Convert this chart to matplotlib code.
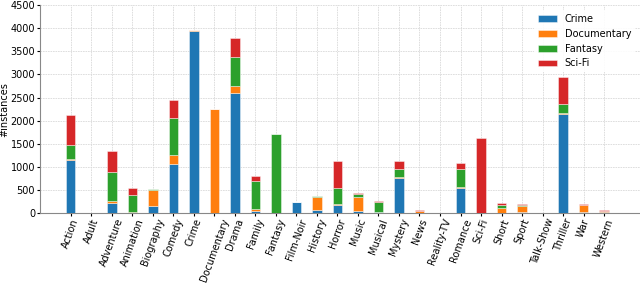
import matplotlib
matplotlib.use("Agg")
import matplotlib.pyplot as plt
import numpy as np

categories = ["Action", "Adult", "Adventure", "Animation", "Biography", "Comedy", "Crime",
              "Documentary", "Drama", "Family", "Fantasy", "Film-Noir", "History", "Horror",
              "Music", "Musical", "Mystery", "News", "Reality-TV", "Romance", "Sci-Fi",
              "Short", "Sport", "Talk-Show", "Thriller", "War", "Western"]
crime       = [1150, 5, 210, 5, 145, 1055, 3950, 0, 2590, 50, 0, 230, 65, 165, 50, 15, 750, 0, 3, 535, 0, 5, 30, 2, 2145, 30, 30]
documentary = [30, 3, 50, 25, 360, 195, 5, 2250, 165, 45, 0, 8, 275, 35, 305, 15, 25, 50, 2, 28, 0, 95, 120, 1, 22, 135, 12]
fantasy     = [290, 0, 625, 360, 10, 800, 0, 0, 615, 590, 1710, 0, 30, 350, 50, 205, 170, 0, 0, 390, 0, 72, 22, 0, 190, 15, 10]
scifi       = [655, 0, 465, 150, 5, 395, 10, 0, 410, 115, 0, 0, 0, 570, 30, 25, 175, 10, 0, 135, 1620, 50, 25, 0, 595, 22, 15]

series = [("Crime", crime, "#1f77b4"), ("Documentary", documentary, "#ff7f0e"),
          ("Fantasy", fantasy, "#2ca02c"), ("Sci-Fi", scifi, "#d62728")]

fig = plt.figure(figsize=(6.4, 2.83), dpi=100)
ax = fig.add_axes([0.0625, 0.247, 0.9375, 0.735])

x = np.arange(len(categories))
bottom = np.zeros(len(categories))
for name, vals, col in series:
    vals = np.array(vals, dtype=float)
    ax.bar(x, vals, 0.46, bottom=bottom, color=col, label=name,
           edgecolor=(1, 1, 1, 0.5), linewidth=0.6, zorder=3)
    bottom += vals

ax.set_xlim(-1.5, len(categories) + 0.75)
ax.set_ylim(0, 4500)
ax.set_yticks(np.arange(0, 4501, 500))
ax.set_xticks(x)
ax.set_xticklabels(categories, rotation=70, fontsize=7)
ax.tick_params(axis="y", labelsize=7, length=2.5, pad=1)
ax.tick_params(axis="x", length=2.5, pad=0.5)
ax.set_ylabel("#instances", fontsize=7)
ax.yaxis.set_label_coords(-0.052, 0.5)
ax.grid(True, color="#d9d9d9", linewidth=0.6, linestyle=(0, (2, 1)), zorder=0)
ax.set_axisbelow(True)
for s in ["top", "right"]:
    ax.spines[s].set_visible(False)
ax.spines["left"].set_color("#888888")
ax.spines["bottom"].set_color("#888888")
ax.legend(loc="upper right", fontsize=7, frameon=True, edgecolor="none",
          framealpha=0.9, fancybox=False, labelspacing=0.5)

fig.savefig("out.png", dpi=100)
